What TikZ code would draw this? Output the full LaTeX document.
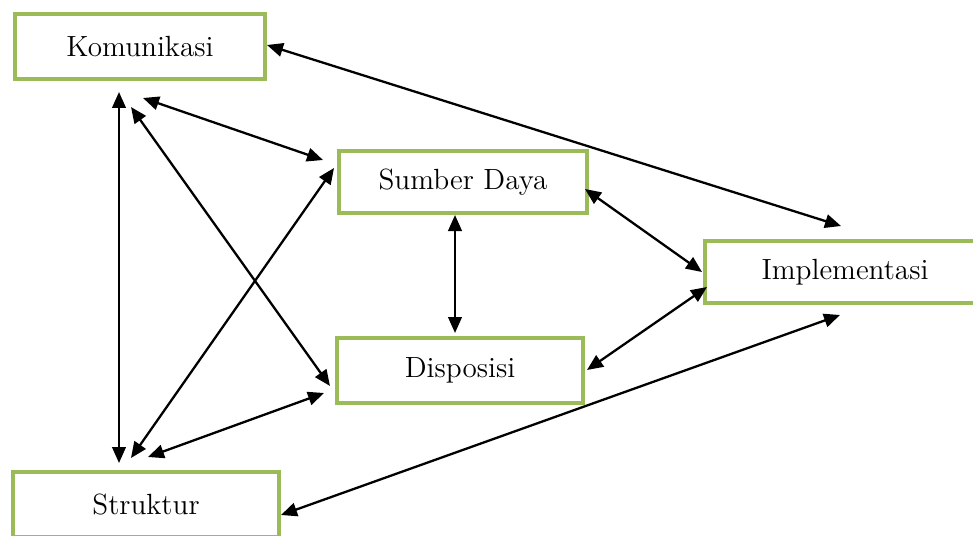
\documentclass[tikz,border=0pt]{standalone}
\usetikzlibrary{arrows.meta}

\definecolor{boxgreen}{RGB}{155,187,89}

\begin{document}
\begin{tikzpicture}[x=0.5pt, y=-0.5pt,
  factor/.style={draw=boxgreen, line width=2.2pt, fill=white, outer sep=0pt,
    inner sep=0pt, font=\fontsize{14.6}{17}\selectfont},
  link/.style={draw=black, line width=1.15pt,
    {Triangle[length=8pt,width=6.8pt]}-{Triangle[length=8pt,width=6.8pt]}}]
\useasboundingbox (0,0) rectangle (973,535);

% factors
\node[factor, minimum width=125pt, minimum height=32.5pt] (kom) at (140,46.5) {Komunikasi};
\node[factor, minimum width=124pt, minimum height=31pt] (sum) at (463,182) {Sumber Daya};
\node[factor, minimum width=123pt, minimum height=32.5pt] (dis) at (460,370.5) {Disposisi};
\node[factor, minimum width=140pt, minimum height=31pt] (imp) at (845,272) {Implementasi};
\node[factor, minimum width=133pt, minimum height=32.5pt] (str) at (146,504.5) {Struktur};

% links
\path[link] ([xshift=1pt,yshift=0.75pt]kom.east) -- ([xshift=-2pt,yshift=7.5pt]imp.north);
\path[link] ([xshift=1.5pt,yshift=-9.5pt]kom.south) -- ([xshift=-8pt,yshift=11pt]sum.west);
\path[link] ([xshift=-4.5pt,yshift=-14pt]kom.south) -- ([xshift=-3.5pt,yshift=-7.75pt]dis.west);
\path[link] ([xshift=-10.5pt,yshift=-6.5pt]kom.south) -- ([xshift=-13.5pt,yshift=4.5pt]str.north);
\path[link] ([xshift=-2.5pt,yshift=7pt]sum.west) -- ([xshift=-7.5pt,yshift=7pt]str.north);
\path[link] ([xshift=-4pt,yshift=-1pt]sum.south) -- ([xshift=-2.5pt,yshift=2.5pt]dis.north);
\path[link] ([xshift=-1pt,yshift=-3.5pt]sum.east) -- ([xshift=-1.5pt]imp.west);
\path[link] ([xshift=2pt,yshift=0.25pt]dis.east) -- ([xshift=1pt,yshift=-7.5pt]imp.west);
\path[link] ([xshift=-6.5pt,yshift=-11.25pt]dis.west) -- ([xshift=1pt,yshift=7.5pt]str.north);
\path[link] ([xshift=-2.5pt,yshift=-6pt]imp.south) -- ([xshift=1pt,yshift=-5.25pt]str.east);

\end{tikzpicture}
\end{document}
